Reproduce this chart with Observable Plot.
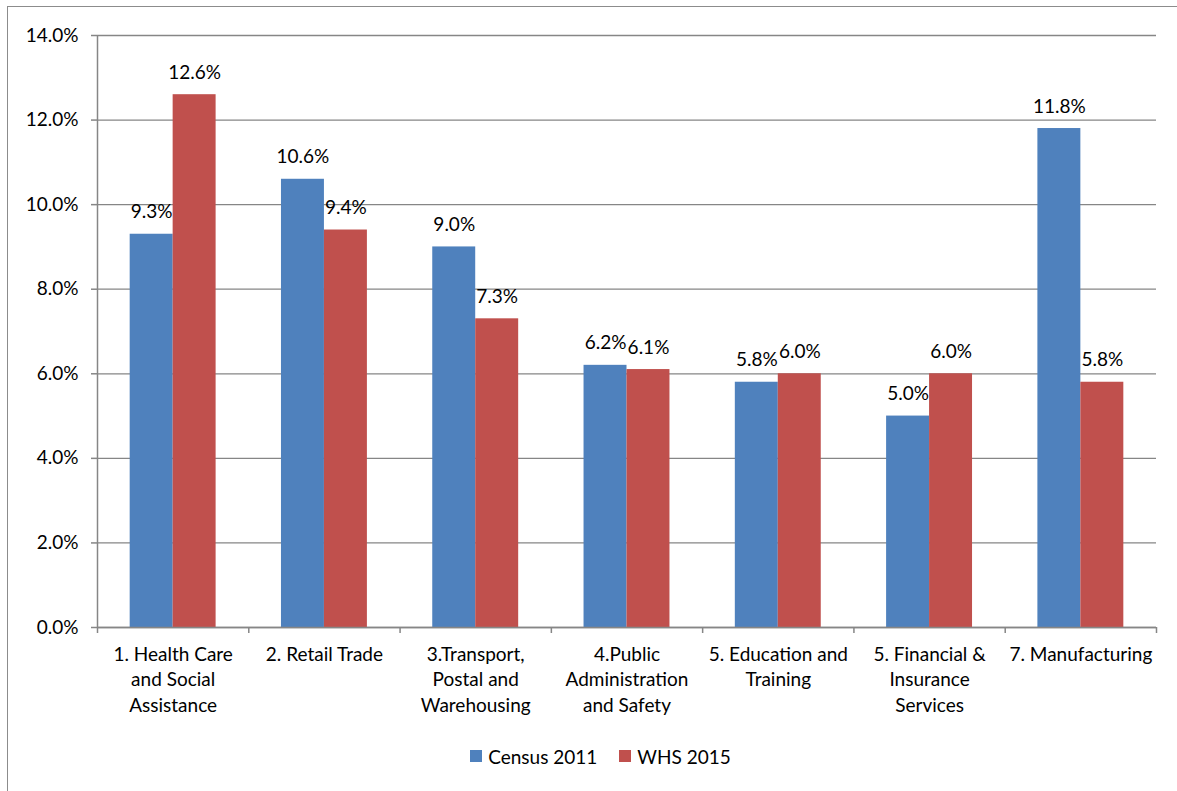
<!DOCTYPE html>
<html>
<head>
<meta charset="utf-8">
<script src="https://cdn.jsdelivr.net/npm/d3@7"></script>
<script src="https://cdn.jsdelivr.net/npm/@observablehq/plot@0.6"></script>
<style>
  html, body { margin: 0; padding: 0; background: #fff; overflow: hidden; }
  #frame { position: absolute; left: 7px; top: 6px; width: 1200px; height: 820px; border: 1.5px solid #8c8c8c; box-sizing: border-box; }
  #chart { position: absolute; left: 0; top: 0; width: 1177px; }
  .lg-swatches { justify-content: center; font: 19px Lato, sans-serif; color: #000; min-height: 32px; margin-top: 0; padding-left: 24px; box-sizing: border-box; }
  .lg-swatch { margin-right: 22px !important; }
  .lg-swatch:last-child { margin-right: 0 !important; }
  .lg-swatch svg { margin-right: 6px !important; }
</style>
</head>
<body>
<div id="frame"></div>
<div id="chart"></div>
<script>
const categories = [
  "1. Health Care and Social Assistance",
  "2. Retail Trade",
  "3.Transport, Postal and Warehousing",
  "4.Public Administration and Safety",
  "5. Education and Training",
  "5. Financial & Insurance Services",
  "7. Manufacturing"
];
const tickLabels = [
  "1. Health Care\nand Social\nAssistance",
  "2. Retail Trade",
  "3.Transport,\nPostal and\nWarehousing",
  "4.Public\nAdministration\nand Safety",
  "5. Education and\nTraining",
  "5. Financial &\nInsurance\nServices",
  "7. Manufacturing"
];
const seriesNames = ["Census 2011", "WHS 2015"];
const census2011 = [9.3, 10.6, 9.0, 6.2, 5.8, 5.0, 11.8];
const whs2015 = [12.6, 9.4, 7.3, 6.1, 6.0, 6.0, 5.8];
const yTicks = [0, 2, 4, 6, 8, 10, 12, 14];
const colors = ["#4F81BD", "#C0504D"];

// Layout of bars within each category slot (fraction of slot)
const barStart = {"Census 2011": 0.216, "WHS 2015": 0.5};
const barWidth = 0.284;

const rows = [];
categories.forEach((c, i) => {
  rows.push({i, category: c, series: seriesNames[0], value: census2011[i]});
  rows.push({i, category: c, series: seriesNames[1], value: whs2015[i]});
});

const gray = "#868686";
const fmt = d => d.toFixed(1) + "%";

const plot = Plot.plot({
  width: 1177,
  height: 740,
  marginLeft: 97,
  marginRight: 21,
  marginTop: 35,
  marginBottom: 113,
  style: {fontFamily: "Lato, sans-serif", fontSize: "19px", color: "#000", background: "transparent", overflow: "visible"},
  x: {type: "linear", domain: [0, categories.length], axis: null},
  y: {domain: [0, 14], axis: null},
  color: {domain: seriesNames, range: colors},
  marks: [
    Plot.gridY(yTicks, {stroke: gray, strokeOpacity: 1, strokeWidth: 1.3}),
    Plot.rectY(rows, {
      x1: d => d.i + barStart[d.series],
      x2: d => d.i + barStart[d.series] + barWidth,
      y1: 0,
      y2: "value",
      fill: "series"
    }),
    Plot.text(rows, {
      x: d => d.i + barStart[d.series] + barWidth / 2,
      y: "value",
      text: d => fmt(d.value),
      dy: -22,
      lineAnchor: "middle",
      fill: "#000"
    }),
    Plot.ruleX([0], {stroke: gray, strokeWidth: 1.5}),
    Plot.ruleY([0], {stroke: gray, strokeWidth: 1.5}),
    Plot.axisY({ticks: yTicks, tickSize: 6, tickPadding: 13, tickFormat: fmt, stroke: gray, strokeWidth: 1.5, fill: "#000", label: null}),
    Plot.axisX({ticks: d3.range(0, categories.length + 1), tickSize: 6, tickFormat: () => "", stroke: gray, strokeWidth: 1.5, label: null}),
    Plot.axisX({
      ticks: d3.range(categories.length).map(i => i + 0.5),
      tickSize: 0,
      tickPadding: 15,
      lineHeight: 1.35,
      tickFormat: v => tickLabels[Math.floor(v)],
      fill: "#000",
      label: null
    })
  ]
});

const legend = Plot.legend({
  color: {domain: seriesNames, range: colors},
  legend: "swatches",
  swatchSize: 12,
  className: "lg"
});

const chart = document.getElementById("chart");
chart.appendChild(plot);
chart.appendChild(legend);
</script>
</body>
</html>
